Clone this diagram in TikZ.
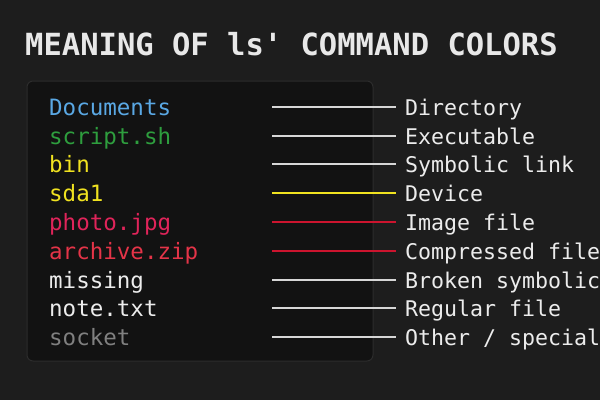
\documentclass[tikz,border=0pt]{standalone}
\usepackage{fontspec}
\newfontfamily\codefont{DejaVu Sans Mono}

\definecolor{bgdark}{RGB}{29,29,29}
\definecolor{panelfill}{RGB}{18,18,18}
\definecolor{panelline}{RGB}{44,44,44}
\definecolor{titlegray}{RGB}{232,232,232}
\definecolor{dirblue}{RGB}{90,168,228}
\definecolor{exegreen}{RGB}{46,158,62}
\definecolor{linkyellow}{RGB}{240,226,32}
\definecolor{imgpink}{RGB}{224,36,90}
\definecolor{zipred}{RGB}{228,52,72}
\definecolor{plainwhite}{RGB}{236,236,236}
\definecolor{sockgray}{RGB}{128,128,128}
\definecolor{linewhite}{RGB}{214,214,214}
\definecolor{linered}{RGB}{204,20,46}

\tikzset{
  fname/.style={anchor=base west, inner sep=0pt, font=\codefont\fontsize{22.5}{26}\selectfont},
  meaning/.style={anchor=base west, inner sep=0pt, text=plainwhite, font=\codefont\fontsize{21.6}{26}\selectfont},
  link/.style={line width=2pt, shorten >=9pt}
}

\begin{document}
\begin{tikzpicture}[x=1pt,y=1pt,yscale=-1,xscale=1]
\useasboundingbox (0,0) rectangle (600,400);
\clip (0,0) rectangle (600,400);

%Background
\fill [bgdark] (0,0) rectangle (600,400);
%Title
\node [anchor=base west, inner sep=0pt, text=titlegray, font=\codefont\bfseries\fontsize{30.5}{34}\selectfont] (title) at (25,55) {MEANING OF ls' COMMAND COLORS};
%Shape: Rounded panel
\draw [rounded corners=6, fill=panelfill, draw=panelline, line width=1pt] (27,81) rectangle (373,361);

%File names
\node [fname, text=dirblue] (docs) at (49,115.2) {Documents};
\node [fname, text=exegreen] (script) at (49,144) {script.sh};
\node [fname, text=linkyellow] (bin) at (49,172.8) {bin};
\node [fname, text=linkyellow] (sda) at (49,201.6) {sda1};
\node [fname, text=imgpink] (photo) at (49,230.4) {photo.jpg};
\node [fname, text=zipred] (archive) at (49,259.2) {archive.zip};
\node [fname, text=plainwhite] (missing) at (49,288) {missing};
\node [fname, text=plainwhite] (note) at (49,316.8) {note.txt};
\node [fname, text=sockgray] (socket) at (49,345.6) {socket};

%Meanings
\node [meaning] (mdir) at (405,115.2) {Directory};
\node [meaning] (mexe) at (405,144) {Executable};
\node [meaning] (mlink) at (405,172.8) {Symbolic link};
\node [meaning] (mdev) at (405,201.6) {Device};
\node [meaning] (mimg) at (405,230.4) {Image file};
\node [meaning] (mzip) at (405,259.2) {Compressed file};
\node [meaning] (mbroken) at (405,288) {Broken symbolic link};
\node [meaning] (mreg) at (405,316.8) {Regular file};
\node [meaning] (mother) at (405,345.6) {Other / special file};

%Straight Lines
\coordinate (sdir) at (272,106.7);
\coordinate (sexe) at (272,135.5);
\coordinate (slink) at (272,164.3);
\coordinate (sdev) at (272,193.1);
\coordinate (simg) at (272,221.9);
\coordinate (szip) at (272,250.7);
\coordinate (sbroken) at (272,279.5);
\coordinate (sreg) at (272,308.3);
\coordinate (sother) at (272,337.1);
\draw [link, linewhite] (sdir) -- (sdir -| mdir.west);
\draw [link, linewhite] (sexe) -- (sexe -| mexe.west);
\draw [link, linewhite] (slink) -- (slink -| mlink.west);
\draw [link, linkyellow] (sdev) -- (sdev -| mdev.west);
\draw [link, linered] (simg) -- (simg -| mimg.west);
\draw [link, linered] (szip) -- (szip -| mzip.west);
\draw [link, linewhite] (sbroken) -- (sbroken -| mbroken.west);
\draw [link, linewhite] (sreg) -- (sreg -| mreg.west);
\draw [link, linewhite] (sother) -- (sother -| mother.west);
\end{tikzpicture}
\end{document}
